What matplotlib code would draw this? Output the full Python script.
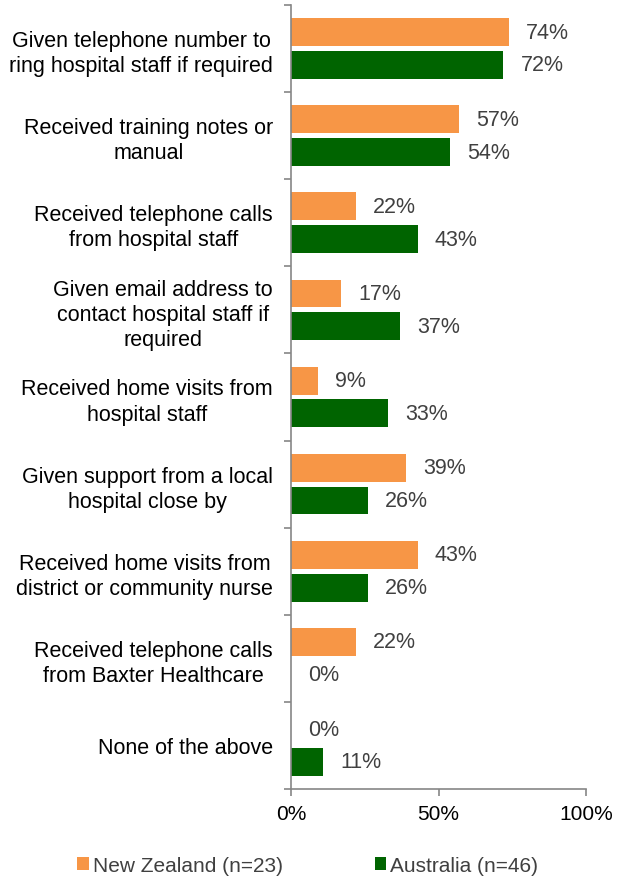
import matplotlib
matplotlib.use("Agg")
import matplotlib.pyplot as plt
import numpy as np

plt.rcParams['font.family'] = ['Liberation Sans', 'DejaVu Sans']

categories = [
    "Given telephone number to\nring hospital staff if required",
    "Received training notes or\nmanual",
    "Received telephone calls\nfrom hospital staff",
    "Given email address to\ncontact hospital staff if\nrequired",
    "Received home visits from\nhospital staff",
    "Given support from a local\nhospital close by",
    "Received home visits from\ndistrict or community nurse",
    "Received telephone calls\nfrom Baxter Healthcare",
    "None of the above",
]
nz_values = [74, 57, 22, 17, 9, 39, 43, 22, 0]
au_values = [72, 54, 43, 37, 33, 26, 26, 0, 11]
series_labels = ["New Zealand (n=23)", "Australia (n=46)"]
x_ticks = [0, 50, 100]

nz_color = "#F79646"
au_color = "#006400"
axis_color = "#868686"
value_color = "#404040"

fig = plt.figure(figsize=(6.28, 8.78), dpi=100)
ax = fig.add_axes([0.4634, 0.1002, 0.4697, 0.893])

n = len(categories)
y = np.arange(n)
bar_h = 0.32
gap = 0.057
off = (bar_h + gap) / 2

b1 = ax.barh(y - off, nz_values, height=bar_h, color=nz_color, label=series_labels[0])
b2 = ax.barh(y + off, au_values, height=bar_h, color=au_color, label=series_labels[1])

for bars, vals in ((b1, nz_values), (b2, au_values)):
    for rect, v in zip(bars, vals):
        ax.annotate(f"{v}%", (v, rect.get_y() + rect.get_height() / 2),
                    xytext=(17, 0), textcoords="offset pixels",
                    va="center", ha="left", fontsize=15.5, color=value_color)

ax.set_ylim(n - 0.5, -0.5)
ax.set_xlim(0, 100)
ax.set_xticks(x_ticks)
ax.set_xticklabels([f"{t}%" for t in x_ticks], fontsize=15)
ax.set_yticks(np.arange(-0.5, n, 1.0), minor=False)
ax.set_yticklabels([])
ax.set_yticks(y, minor=True)
ax.set_yticklabels(categories, minor=True, fontsize=15.5, ha="right",
                   multialignment="center", linespacing=1.26)
ax.tick_params(axis="y", which="minor", length=0, pad=13)
ax.tick_params(axis="y", which="major", length=5, color=axis_color, width=1.2)
ax.tick_params(axis="x", length=5, color=axis_color, width=1.2, pad=6)

for s in ("top", "right"):
    ax.spines[s].set_visible(False)
for s in ("left", "bottom"):
    ax.spines[s].set_color(axis_color)
    ax.spines[s].set_linewidth(1.2)

fig.legend(handles=[b1, b2], labels=series_labels, loc="lower center",
           bbox_to_anchor=(0.49, -0.019), ncol=2, frameon=False, fontsize=15,
           handlelength=0.55, handleheight=0.55, handletextpad=0.2,
           columnspacing=4.4, labelcolor="#404040")

fig.savefig("out.png", dpi=100)
